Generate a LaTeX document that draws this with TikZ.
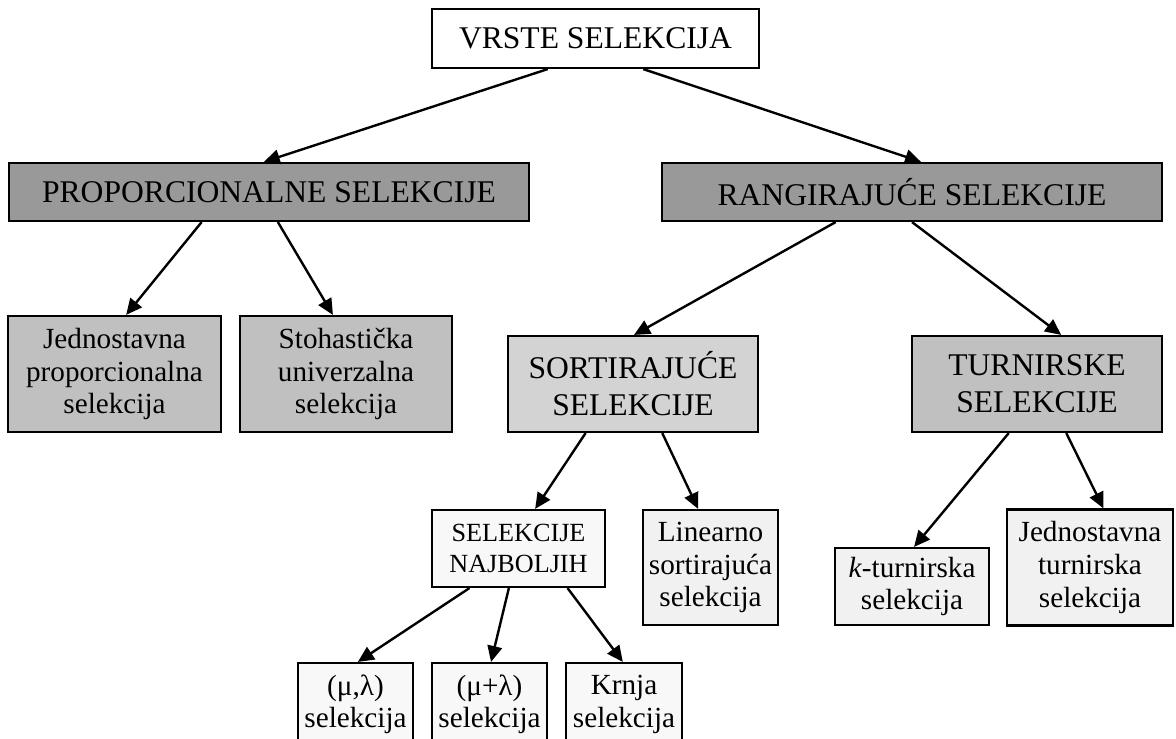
\documentclass[tikz,border=0pt]{standalone}
\usepackage{fontspec}
\setmainfont{Liberation Serif}
\usetikzlibrary{arrows.meta,calc}
\definecolor{dk}{HTML}{999999}
\definecolor{md}{HTML}{C0C0C0}
\definecolor{sortc}{HTML}{D3D3D3}
\definecolor{lt}{HTML}{F1F1F1}
\definecolor{vlt}{HTML}{F8F8F8}
\tikzset{
  box/.style={draw=black, line width=1.6pt, inner sep=0pt, align=center, text=black},
  wh/.style 2 args={minimum width={#1*0.75pt}, minimum height={#2*0.75pt}},
  big/.style={font=\fontsize{23.7pt}{27.75pt}\selectfont},
  norm/.style={font=\fontsize{21.9pt}{24.4pt}\selectfont},
  small/.style={font=\fontsize{19.65pt}{23.25pt}\selectfont},
  arr/.style={line width=1.8pt, -{Triangle[length=12pt,width=11pt]}},
}
\begin{document}
\begin{tikzpicture}[x=0.75pt,y=-0.75pt]
\useasboundingbox (0,0) rectangle (1176,738);
\clip (0,0) rectangle (1176,738);
% level 0
\node[box,big,fill=white,wh={327}{59}] (root) at (595.5,38.5) {VRSTE SELEKCIJA};
% level 1
\node[box,big,fill=dk,wh={520}{58}] (prop) at (269,192) {PROPORCIONALNE SELEKCIJE};
\node[box,big,fill=dk,wh={500}{58}] (rang) at (912,192) {RANGIRAJUĆE SELEKCIJE};
% level 2
\node[box,norm,fill=md,wh={213}{116}] (jedp) at (114.5,374) {Jednostavna\\proporcionalna\\selekcija};
\node[box,norm,fill=md,wh={212}{116}] (stoh) at (346,374) {Stohastička\\univerzalna\\selekcija};
\node[box,big,fill=sortc,wh={250}{96}] (sort) at (633,384) {SORTIRAJUĆE\\SELEKCIJE};
\node[box,big,fill=md,wh={250}{96}] (turn) at (1037,384) {TURNIRSKE\\SELEKCIJE};
% level 3
\node[box,small,fill=vlt,wh={173}{77}] (naj) at (518.5,548.5) {SELEKCIJE\\NAJBOLJIH};
\node[box,norm,fill=lt,wh={135}{115}] (lin) at (710.5,567.5) {Linearno\\sortirajuća\\selekcija};
\node[box,norm,fill=lt,wh={154}{77}] (kt) at (912,586.5) {\textit{k}-turnirska\\selekcija};
\node[box,norm,fill=lt,wh={166}{116}] (jt) at (1090,567.5) {Jednostavna\\turnirska\\selekcija};
% level 4
\node[box,norm,fill=vlt,wh={115}{83}] (ml) at (355.5,704.5) {(μ,λ)\\selekcija};
\node[box,norm,fill=vlt,wh={115}{83}] (mpl) at (489.5,704.5) {(μ+λ)\\selekcija};
\node[box,norm,fill=vlt,wh={116}{83}] (krn) at (624,704.5) {Krnja\\selekcija};
% connectors
\draw[arr] ($(root.south west)!0.355!(root.south east)$) -- ($(prop.north west)!0.49!(prop.north east)$);
\draw[arr] ($(root.south west)!0.645!(root.south east)$) -- ($(rang.north west)!0.518!(rang.north east)$);
\draw[arr] ($(prop.south west)!0.371!(prop.south east)$) -- ($(jedp.north west)!0.554!(jedp.north east)$);
\draw[arr] ($(prop.south west)!0.517!(prop.south east)$) -- ($(stoh.north west)!0.439!(stoh.north east)$);
\draw[arr] ($(rang.south west)!0.348!(rang.south east)$) -- ($(sort.north west)!0.504!(sort.north east)$);
\draw[arr] ($(rang.south west)!0.5!(rang.south east)$) -- ($(turn.north west)!0.596!(turn.north east)$);
\draw[arr] ($(sort.south west)!0.312!(sort.south east)$) -- ($(naj.north west)!0.595!(naj.north east)$);
\draw[arr] ($(sort.south west)!0.616!(sort.south east)$) -- ($(lin.north west)!0.41!(lin.north east)$);
\draw[arr] ($(turn.south west)!0.388!(turn.south east)$) -- ($(kt.north west)!0.513!(kt.north east)$);
\draw[arr] ($(turn.south west)!0.616!(turn.south east)$) -- ($(jt.north west)!0.58!(jt.north east)$);
\draw[arr] ($(naj.south west)!0.22!(naj.south east)$) -- ($(ml.north west)!0.52!(ml.north east)$);
\draw[arr] ($(naj.south west)!0.445!(naj.south east)$) -- ($(mpl.north west)!0.513!(mpl.north east)$);
\draw[arr] ($(naj.south west)!0.78!(naj.south east)$) -- ($(krn.north west)!0.49!(krn.north east)$);
\end{tikzpicture}
\end{document}
